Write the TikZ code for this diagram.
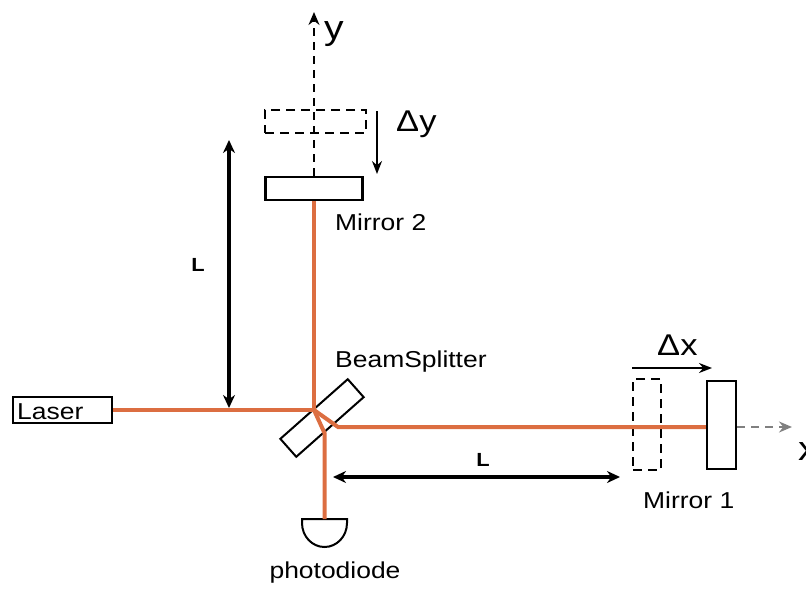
\documentclass[tikz,border=0pt]{standalone}
\usepackage{fontspec}
\setmainfont{Liberation Sans}[FakeStretch=1.15]
\usetikzlibrary{arrows.meta}
\definecolor{beamcol}{RGB}{220,110,65}

\begin{document}
\begin{tikzpicture}[x=1pt,y=-1pt,
	beam/.style={draw=beamcol, line width=4pt},
	mirror/.style={draw, line width=2.5pt, inner sep=0pt},
	ghost/.style={draw, line width=2pt, dash pattern=on 9pt off 6pt, inner sep=0pt},
	axisline/.style={line width=1.6pt, dash pattern=on 8pt off 6pt, -{Stealth[length=13pt,width=11pt]}},
	shiftarrow/.style={line width=1.8pt, -{Stealth[length=13pt,width=10pt]}},
	dist/.style={line width=4pt, {Stealth[length=13pt,width=12pt]}-{Stealth[length=13pt,width=12pt]}},
	lbl/.style={font=\fontsize{23}{27}\selectfont, inner sep=0pt},
	big/.style={font=\fontsize{30}{34}\selectfont, inner sep=0pt},
	lenlbl/.style={font=\bfseries\fontsize{19}{22}\selectfont, inner sep=0pt}]
		\useasboundingbox (0,0) rectangle (806,589);
		% optical parts
		\node[draw, line width=2pt, minimum width=99pt, minimum height=26pt, inner sep=0pt] (laser) at (62.5,410) {};
		\node[lbl, anchor=base west] at (17,419) {Laser};
		\node[mirror, minimum width=97pt, minimum height=23pt] (m2) at (314,188.5) {};
		\node[ghost, minimum width=101pt, minimum height=23pt] (m2old) at (315.5,121.5) {};
		\node[mirror, minimum width=29pt, minimum height=88pt] (m1) at (721.5,425) {};
		\node[ghost, minimum width=28pt, minimum height=91pt] (m1old) at (647,424.5) {};
		\node[draw, line width=2pt, minimum width=90pt, minimum height=24pt, inner sep=0pt, rotate=41.5] (bs) at (322,418) {};
		\draw[line width=2pt] (302,519) -- (347,519) -- (347,523) arc[start angle=0, end angle=180, x radius=22.5, y radius=24] -- cycle;
		\coordinate (pd) at (324.5,519);
		% beams
		\coordinate (hitA) at (314,410);
		\coordinate (hitB) at (338,427);
		\coordinate (hitC) at (324.5,433);
		\draw[beam] (laser.east) -- (hitA);
		\draw[beam] (m2.south) -- (hitA);
		\draw[beam] (hitA) -- (hitC) -- (pd);
		\draw[beam] (hitA) -- (hitB) -- (hitB -| m1.west);
		% axes
		\coordinate (ytip) at (314,12);
		\coordinate (xtip) at (792,427);
		\draw[axisline] (m2.north) -- (ytip);
		\node[font=\fontsize{34}{38}\selectfont, inner sep=0pt, anchor=base west] at (324,39) {y};
		\draw[axisline, gray] (m1.east |- xtip) -- (xtip);
		\node[font=\fontsize{34}{38}\selectfont, inner sep=0pt, anchor=base west] at (798,460) {x};
		% displacements
		\coordinate (dyA) at (377,111);
		\coordinate (dyB) at (377,174);
		\draw[shiftarrow] (dyA) -- (dyB);
		\node[big, anchor=base west] at (396,131) {Δy};
		\coordinate (dxA) at (632,368);
		\coordinate (dxB) at (712,368);
		\draw[shiftarrow] (dxA) -- (dxB);
		\node[big, anchor=base west] at (657,355) {Δx};
		% lengths
		\coordinate (LvA) at (229,140);
		\coordinate (LvB) at (229,408);
		\draw[dist] (LvA) -- (LvB);
		\node[lenlbl] at (198,265) {L};
		\coordinate (LhA) at (333,477);
		\coordinate (LhB) at (620,477);
		\draw[dist] (LhA) -- (LhB);
		\node[lenlbl] at (483,460) {L};
		% labels
		\node[lbl, anchor=base west] at (335,230) {Mirror 2};
		\node[lbl, anchor=base west] at (335,367) {BeamSplitter};
		\node[lbl, anchor=base west] at (643,508) {Mirror 1};
		\node[lbl, anchor=base] at (335,578) {photodiode};
	\end{tikzpicture}
\end{document}
